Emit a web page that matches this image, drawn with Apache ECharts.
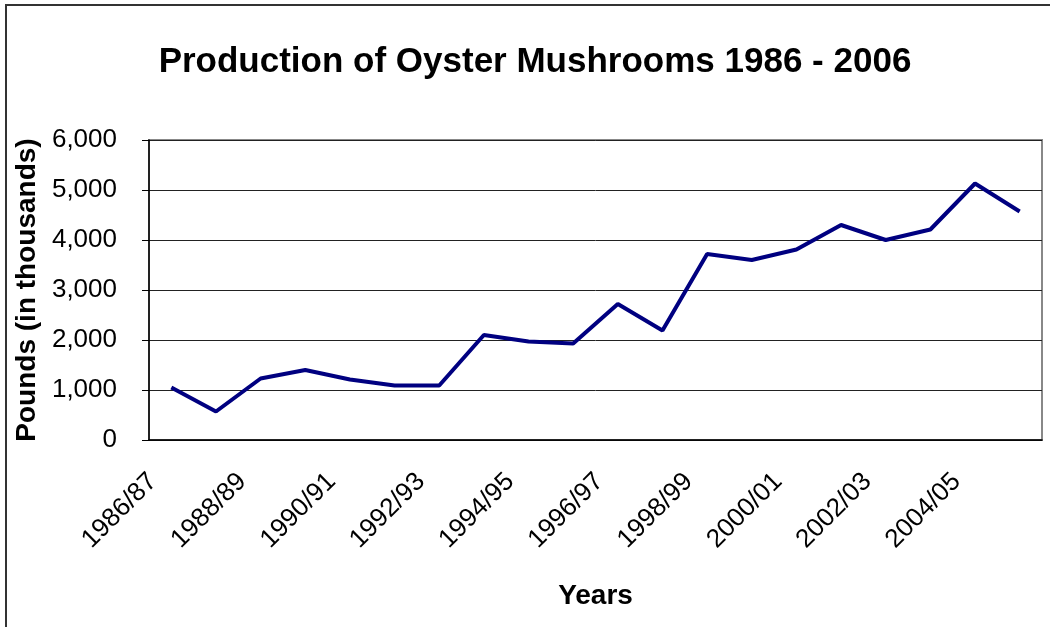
<!DOCTYPE html>
<html>
<head>
<meta charset="utf-8">
<script src="https://cdn.jsdelivr.net/npm/echarts@6/dist/echarts.min.js"></script>
<style>
  html, body { margin: 0; padding: 0; background: #fff; }
  #chart { width: 1050px; height: 627px; }
</style>
</head>
<body>
<div id="chart"></div>
<script>
var years = ['1986/87', '1987/88', '1988/89', '1989/90', '1990/91', '1991/92', '1992/93',
  '1993/94', '1994/95', '1995/96', '1996/97', '1997/98', '1998/99', '1999/00',
  '2000/01', '2001/02', '2002/03', '2003/04', '2004/05', '2005/06'];
var production = [1050, 570, 1230, 1400, 1210, 1090, 1090, 2100, 1970, 1930,
  2720, 2190, 3720, 3600, 3810, 4300, 4000, 4210, 5130, 4570];

var chart = echarts.init(document.getElementById('chart'));

var font = 'Liberation Sans, Arial, sans-serif';

var option = {
  animation: false,
  title: {
    text: 'Production of Oyster Mushrooms 1986 - 2006',
    left: 530,
    top: 40,
    textAlign: 'center',
    textStyle: { fontFamily: font, fontSize: 35, fontWeight: 'bold', color: '#000' }
  },
  graphic: [{
    type: 'rect',
    shape: { x: 6, y: 5, width: 1100, height: 700 },
    style: { fill: 'none', stroke: '#333', lineWidth: 2 },
    silent: true
  }],
  grid: {
    left: 149, right: 8, top: 140, bottom: 187,
    show: true, borderColor: '#888', borderWidth: 2, backgroundColor: 'transparent'
  },
  xAxis: {
    type: 'category',
    data: years,
    boundaryGap: true,
    name: 'Years',
    nameLocation: 'middle',
    nameGap: 142,
    nameTextStyle: { fontFamily: font, fontSize: 28, fontWeight: 'bold', color: '#000' },
    axisLine: { lineStyle: { color: '#000', width: 1.5 } },
    axisTick: { interval: 0, length: 7, lineStyle: { color: '#000' } },
    axisLabel: {
      interval: 1, rotate: 45, margin: 19, padding: [0, 26, 0, 0],
      fontFamily: font, fontSize: 26, color: '#000'
    }
  },
  yAxis: {
    type: 'value',
    min: 0, max: 6000, interval: 1000,
    name: 'Pounds (in thousands)',
    nameLocation: 'middle',
    nameGap: 103,
    nameTextStyle: { fontFamily: font, fontSize: 28, fontWeight: 'bold', color: '#000' },
    axisLine: { show: true, lineStyle: { color: '#000', width: 1.5 } },
    axisTick: { show: true, length: 7, lineStyle: { color: '#000' } },
    axisLabel: {
      margin: 32, fontFamily: font, fontSize: 26, color: '#000',
      formatter: function (v) { return v.toLocaleString('en-US'); }
    },
    splitLine: { lineStyle: { color: '#222', width: 1 } }
  },
  series: [{
    type: 'line',
    data: production,
    symbol: 'none',
    lineStyle: { color: '#000080', width: 4 }
  }]
};

chart.setOption(option);
</script>
</body>
</html>
